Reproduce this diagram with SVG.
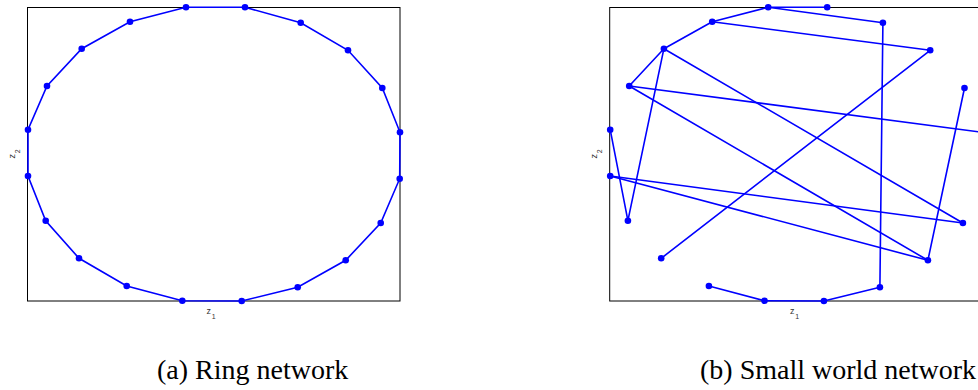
<svg xmlns="http://www.w3.org/2000/svg" width="978" height="390" viewBox="0 0 978 390">
<style>
.frame{fill:none;stroke:#000;stroke-width:1}
.edge{stroke:#0000ff;stroke-width:1.6;fill:none;stroke-linecap:round}
.dot{fill:#0000ff}
.ax{font-family:"Liberation Sans",Arial,sans-serif;font-size:9px;fill:#333}
.sub{font-size:7px}
.cap{font-family:"Liberation Serif","Times New Roman",serif;font-size:28px;fill:#000}
</style>
<defs>
<circle id="d" r="3.3" class="dot"/>
</defs>
<rect fill="#fff" width="978" height="390"/>

<!-- Panel (a) -->
<g id="panel-a">
<rect class="frame" x="27.5" y="7.5" width="372.5" height="293.5"/>
<g id="edges-a" class="edge">
<polygon class="edge" points="186,7.3 245,7.3 300.7,22.7 348,50.3 382.3,88 400,132.3 399.7,178.7 380.7,223 345.7,260.3 297.7,287.3 241.7,301 182.3,300.7 126.7,286 79,258.3 45.7,220.7 28,176 28,129.7 47,86 81.7,48.7 130,21.7"/>
</g>
<g id="a-n0"><use href="#d" x="186" y="7.3"/></g>
<g id="a-n1"><use href="#d" x="245" y="7.3"/></g>
<g id="a-n2"><use href="#d" x="300.7" y="22.7"/></g>
<g id="a-n3"><use href="#d" x="348" y="50.3"/></g>
<g id="a-n4"><use href="#d" x="382.3" y="88"/></g>
<g id="a-n5"><use href="#d" x="400" y="132.3"/></g>
<g id="a-n6"><use href="#d" x="399.7" y="178.7"/></g>
<g id="a-n7"><use href="#d" x="380.7" y="223"/></g>
<g id="a-n8"><use href="#d" x="345.7" y="260.3"/></g>
<g id="a-n9"><use href="#d" x="297.7" y="287.3"/></g>
<g id="a-n10"><use href="#d" x="241.7" y="301"/></g>
<g id="a-n11"><use href="#d" x="182.3" y="300.7"/></g>
<g id="a-n12"><use href="#d" x="126.7" y="286"/></g>
<g id="a-n13"><use href="#d" x="79" y="258.3"/></g>
<g id="a-n14"><use href="#d" x="45.7" y="220.7"/></g>
<g id="a-n15"><use href="#d" x="28" y="176"/></g>
<g id="a-n16"><use href="#d" x="28" y="129.7"/></g>
<g id="a-n17"><use href="#d" x="47" y="86"/></g>
<g id="a-n18"><use href="#d" x="81.7" y="48.7"/></g>
<g id="a-n19"><use href="#d" x="130" y="21.7"/></g>
<text class="ax" x="206.5" y="314">z</text><text class="ax sub" x="211.8" y="319.3">1</text>
<g transform="translate(15.2,158.5) rotate(-90)"><text class="ax" x="0" y="0">z</text><text class="ax sub" x="5.2" y="5">2</text></g>
<text class="cap" x="157" y="379">(a) Ring network</text>
</g>

<!-- Panel (b) -->
<g id="panel-b">
<rect class="frame" x="609.7" y="7.5" width="372.5" height="293.5"/>
<g id="edges-b" class="edge">
<line x1="768.2" y1="7.3" x2="827.2" y2="7.3"/>
<line x1="768.2" y1="7.3" x2="882.9" y2="22.7"/>
<line x1="768.2" y1="7.3" x2="712.2" y2="21.7"/>
<line x1="882.9" y1="22.7" x2="879.9" y2="287.3"/>
<line x1="712.2" y1="21.7" x2="930.2" y2="50.3"/>
<line x1="712.2" y1="21.7" x2="663.9" y2="48.7"/>
<line x1="663.9" y1="48.7" x2="629.2" y2="86"/>
<line x1="663.9" y1="48.7" x2="627.9" y2="220.7"/>
<line x1="663.9" y1="48.7" x2="962.9" y2="223"/>
<line x1="629.2" y1="86" x2="982.2" y2="132.3"/>
<line x1="629.2" y1="86" x2="927.9" y2="260.3"/>
<line x1="930.2" y1="50.3" x2="661.2" y2="258.3"/>
<line x1="964.5" y1="88" x2="927.9" y2="260.3"/>
<line x1="610.2" y1="129.7" x2="627.9" y2="220.7"/>
<line x1="610.2" y1="176" x2="962.9" y2="223"/>
<line x1="610.2" y1="176" x2="927.9" y2="260.3"/>
<line x1="708.9" y1="286" x2="764.5" y2="300.7"/>
<line x1="764.5" y1="300.7" x2="823.9" y2="301"/>
<line x1="823.9" y1="301" x2="879.9" y2="287.3"/>
</g>
<g id="b-n0"><use href="#d" x="768.2" y="7.3"/></g>
<g id="b-n1"><use href="#d" x="827.2" y="7.3"/></g>
<g id="b-n2"><use href="#d" x="882.9" y="22.7"/></g>
<g id="b-n3"><use href="#d" x="930.2" y="50.3"/></g>
<g id="b-n4"><use href="#d" x="964.5" y="88"/></g>
<g id="b-n5"><use href="#d" x="982.2" y="132.3"/></g>
<g id="b-n6"><use href="#d" x="981.9" y="178.7"/></g>
<g id="b-n7"><use href="#d" x="962.9" y="223"/></g>
<g id="b-n8"><use href="#d" x="927.9" y="260.3"/></g>
<g id="b-n9"><use href="#d" x="879.9" y="287.3"/></g>
<g id="b-n10"><use href="#d" x="823.9" y="301"/></g>
<g id="b-n11"><use href="#d" x="764.5" y="300.7"/></g>
<g id="b-n12"><use href="#d" x="708.9" y="286"/></g>
<g id="b-n13"><use href="#d" x="661.2" y="258.3"/></g>
<g id="b-n14"><use href="#d" x="627.9" y="220.7"/></g>
<g id="b-n15"><use href="#d" x="610.2" y="176"/></g>
<g id="b-n16"><use href="#d" x="610.2" y="129.7"/></g>
<g id="b-n17"><use href="#d" x="629.2" y="86"/></g>
<g id="b-n18"><use href="#d" x="663.9" y="48.7"/></g>
<g id="b-n19"><use href="#d" x="712.2" y="21.7"/></g>
<text class="ax" x="790" y="314">z</text><text class="ax sub" x="795.3" y="319.3">1</text>
<g transform="translate(596.8,158.5) rotate(-90)"><text class="ax" x="0" y="0">z</text><text class="ax sub" x="5.2" y="5">2</text></g>
<text class="cap" x="700" y="379">(b) Small world network</text>
</g>
</svg>
